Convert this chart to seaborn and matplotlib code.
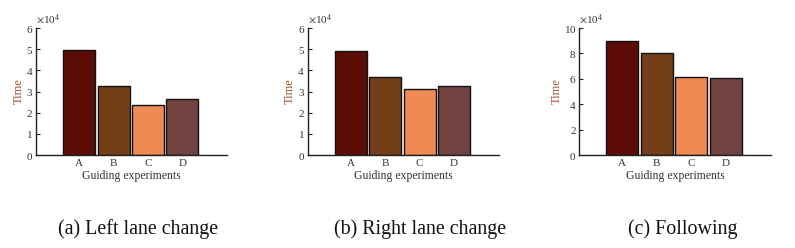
import numpy as np
import pandas as pd
import matplotlib
matplotlib.use('Agg')
import matplotlib.pyplot as plt
import matplotlib.ticker as mtick
import seaborn as sns

sns.set_style('white')
plt.rcParams['font.family'] = ['Liberation Serif', 'DejaVu Serif']
plt.rcParams['mathtext.fontset'] = 'stix'

experiments = ['A', 'B', 'C', 'D']
left_change = [49500, 32800, 23500, 26300]
right_change = [49100, 37000, 31300, 32400]
following = [89500, 80300, 61200, 60900]

panels = [('(a) Left lane change', left_change, 6e4, 1e4),
          ('(b) Right lane change', right_change, 6e4, 1e4),
          ('(c) Following', following, 10e4, 2e4)]

colors = ['#5c0b07', '#733f19', '#ef8a55', '#724341']

fig = plt.figure(figsize=(7.95, 2.48), dpi=100)
lefts = [0.0453, 0.387, 0.7287]
width = 0.2405
caption_x = [0.174, 0.529, 0.859]

for i, (caption, vals, ymax, step) in enumerate(panels):
    ax = fig.add_axes([lefts[i], 0.375, width, 0.512])
    df = pd.DataFrame({'exp': experiments, 'time': vals})
    sns.barplot(data=df, x='exp', y='time', hue='exp', palette=colors, legend=False,
                saturation=1, width=0.93, edgecolor='#111111', linewidth=1.0, ax=ax)
    ax.set_xlim(-1.25, 4.3)
    ax.set_ylim(0, ymax)
    ax.set_yticks(np.arange(0, ymax + 1, step))
    formatter = mtick.ScalarFormatter(useMathText=True)
    formatter.set_powerlimits((4, 4))
    ax.yaxis.set_major_formatter(formatter)
    ax.yaxis.get_offset_text().set_fontsize(8)
    ax.yaxis.get_offset_text().set_color('#444444')
    for s in ['top', 'right']:
        ax.spines[s].set_visible(False)
    for s in ['left', 'bottom']:
        ax.spines[s].set_color('#222222')
        ax.spines[s].set_linewidth(1.0)
    ax.tick_params(axis='y', direction='in', length=3, width=0.8, labelsize=8,
                   labelcolor='#333333', pad=2, left=True)
    ax.tick_params(axis='x', length=0, labelsize=8, labelcolor='#333333', pad=3)
    ax.set_xlabel('Guiding experiments', fontsize=8.5, color='#333333', labelpad=1)
    ax.set_ylabel('Time', fontsize=9, color='#a0522d', labelpad=1)
    fig.text(caption_x[i], 0.075, caption, ha='center', va='center', fontsize=14.4, color='#111111')

fig.savefig('out.png', dpi=100)
